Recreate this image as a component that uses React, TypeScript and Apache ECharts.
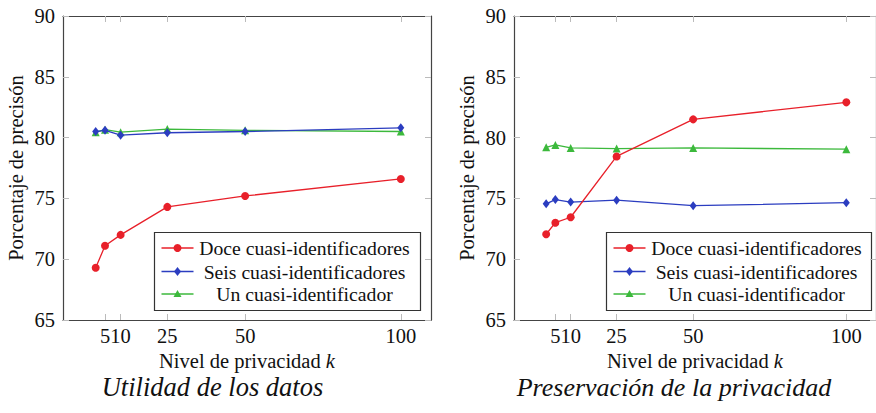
import React, { useEffect, useRef } from "react";
import * as echarts from "echarts";

const kValues = [2, 5, 10, 25, 50, 100];
const xTickValues = [5, 10, 25, 50, 100];

const utilDoce = [69.3, 71.1, 72.0, 74.3, 75.2, 76.6];
const utilSeis = [80.5, 80.6, 80.2, 80.4, 80.5, 80.8];
const utilUn = [80.45, 80.65, 80.45, 80.7, 80.6, 80.5];

const privDoce = [72.05, 73.0, 73.45, 78.45, 81.5, 82.9];
const privSeis = [74.55, 74.9, 74.7, 74.85, 74.4, 74.65];
const privUn = [79.2, 79.4, 79.15, 79.1, 79.15, 79.05];

const seriesNames = [
  "Doce cuasi-identificadores",
  "Seis cuasi-identificadores",
  "Un cuasi-identificador",
];
const chartTitles = ["Utilidad de los datos", "Preservación de la privacidad"];
const xAxisName = "Nivel de privacidad {i|k}";
const yAxisName = "Porcentaje de precisón";

const RED = "#e8202a";
const BLUE = "#2b3dc0";
const GREEN = "#3cb93c";
const colors = [RED, BLUE, GREEN];
const symbols = ["circle", "diamond", "triangle"];
const symbolSizes: any[] = [8, [7, 9], 8];

const FONT = "Liberation Serif";
const TXT = "#111";
const FRAME = "#444";
const TICK = "#bbbbbb";

const gridLefts = [63, 514];
const gridWidth = 368;
const gridTop = 16;
const gridHeight = 304;

function pair(xs: number[], ys: number[]) {
  return xs.map((x, i) => [x, ys[i]]);
}

function legendGraphics(left: number, top: number, width: number) {
  const rowsY = [top + 15.5, top + 39, top + 61.5];
  const lineX1 = left + 7;
  const lineX2 = left + 39;
  const mx = (lineX1 + lineX2) / 2;
  const textX = left + 150;
  const children: any[] = [
    {
      type: "rect",
      shape: { x: left, y: top, width, height: 78 },
      style: { fill: "#fff", stroke: "#333", lineWidth: 1.2 },
    },
  ];
  rowsY.forEach((y, i) => {
    children.push({
      type: "line",
      shape: { x1: lineX1, y1: y, x2: lineX2, y2: y },
      style: { stroke: colors[i], lineWidth: 1.5 },
    });
    if (i === 0) {
      children.push({
        type: "circle",
        shape: { cx: mx, cy: y, r: 4 },
        style: { fill: colors[i] },
      });
    } else if (i === 1) {
      children.push({
        type: "polygon",
        shape: { points: [[mx, y - 4.5], [mx + 3.5, y], [mx, y + 4.5], [mx - 3.5, y]] },
        style: { fill: colors[i] },
      });
    } else {
      children.push({
        type: "polygon",
        shape: { points: [[mx, y - 4], [mx + 4, y + 3], [mx - 4, y + 3]] },
        style: { fill: colors[i] },
      });
    }
    children.push({
      type: "text",
      x: textX,
      y,
      style: {
        text: seriesNames[i],
        fontFamily: FONT,
        fontSize: 19.7,
        fill: TXT,
        align: "center",
        verticalAlign: "middle",
      },
    });
  });
  return { type: "group", children, z: 100 };
}

export default function App() {
  const ref = useRef<HTMLDivElement>(null);

  useEffect(() => {
    if (!ref.current) return;
    const chart = echarts.init(ref.current, undefined, { renderer: "svg" });

    const xAxes: any[] = [];
    const yAxes: any[] = [];
    [0, 1].forEach((g) => {
      xAxes.push({
        gridIndex: g,
        type: "value",
        min: -8.5,
        max: 109.7,
        position: "bottom",
        axisLine: { show: true, onZero: false, lineStyle: { color: FRAME, width: 1.2 } },
        axisTick: {
          show: true,
          inside: true,
          length: 6,
          customValues: xTickValues,
          lineStyle: { color: TICK },
        },
        axisLabel: {
          customValues: xTickValues,
          margin: 5,
          fontFamily: FONT,
          fontSize: 20.5,
          color: TXT,
        },
        splitLine: { show: false },
        name: xAxisName,
        nameLocation: "middle",
        nameGap: 29,
        nameTextStyle: {
          fontFamily: FONT,
          fontSize: 20.5,
          color: TXT,
          rich: {
            i: { fontFamily: FONT, fontSize: 20.5, fontStyle: "italic", color: TXT },
          },
        },
      });
      xAxes.push({
        gridIndex: g,
        type: "value",
        min: -8.5,
        max: 109.7,
        position: "top",
        axisLine: { show: true, onZero: false, lineStyle: { color: FRAME, width: 1.2 } },
        axisTick: {
          show: true,
          inside: true,
          length: 6,
          customValues: xTickValues,
          lineStyle: { color: TICK },
        },
        axisLabel: { show: false },
        splitLine: { show: false },
      });
      yAxes.push({
        gridIndex: g,
        type: "value",
        min: 65,
        max: 90,
        interval: 5,
        position: "left",
        axisLine: { show: true, onZero: false, lineStyle: { color: FRAME, width: 1.2 } },
        axisTick: { show: true, inside: true, length: 6, lineStyle: { color: TICK } },
        axisLabel: { margin: 8, fontFamily: FONT, fontSize: 20.5, color: TXT },
        splitLine: { show: false },
        name: yAxisName,
        nameLocation: "middle",
        nameGap: 37,
        nameRotate: 90,
        nameTextStyle: { fontFamily: FONT, fontSize: 20.5, color: TXT },
      });
      yAxes.push({
        gridIndex: g,
        type: "value",
        min: 65,
        max: 90,
        interval: 5,
        position: "right",
        axisLine: { show: true, onZero: false, lineStyle: { color: FRAME, width: 1.2 } },
        axisTick: { show: true, inside: true, length: 6, lineStyle: { color: TICK } },
        axisLabel: { show: false },
        splitLine: { show: false },
      });
    });

    const data = [
      [utilDoce, utilSeis, utilUn],
      [privDoce, privSeis, privUn],
    ];
    const series: any[] = [];
    [0, 1].forEach((g) => {
      data[g].forEach((vals, i) => {
        series.push({
          type: "line",
          name: seriesNames[i],
          xAxisIndex: g * 2,
          yAxisIndex: g * 2,
          data: pair(kValues, vals),
          symbol: symbols[i],
          symbolSize: symbolSizes[i],
          showSymbol: true,
          lineStyle: { color: colors[i], width: 1.3 },
          itemStyle: { color: colors[i] },
          z: 3 - i,
        });
      });
    });

    chart.setOption({
      animation: false,
      backgroundColor: "#fff",
      grid: gridLefts.map((left) => ({
        left,
        top: gridTop,
        width: gridWidth,
        height: gridHeight,
        containLabel: false,
      })),
      xAxis: xAxes,
      yAxis: yAxes,
      series,
      graphic: [
        legendGraphics(154.5, 232.5, 266),
        legendGraphics(606.5, 232.5, 265),
        {
          type: "text",
          x: 212.5,
          y: 387,
          style: {
            text: chartTitles[0],
            fontFamily: FONT,
            fontSize: 26.5,
            fontStyle: "italic",
            fill: TXT,
            align: "center",
            verticalAlign: "middle",
          },
        },
        {
          type: "text",
          x: 674,
          y: 387,
          style: {
            text: chartTitles[1],
            fontFamily: FONT,
            fontSize: 26,
            fontStyle: "italic",
            fill: TXT,
            align: "center",
            verticalAlign: "middle",
          },
        },
      ],
    });

    return () => chart.dispose();
  }, []);

  return (
    <div
      ref={ref}
      style={{ position: "absolute", left: 0, top: 0, width: 876, height: 413 }}
    />
  );
}
